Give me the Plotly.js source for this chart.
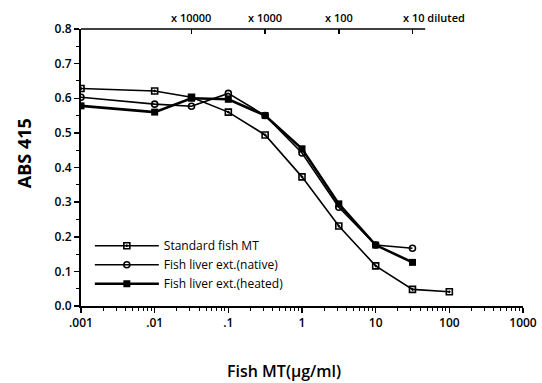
<!DOCTYPE html>
<html>
<head>
<meta charset="utf-8">
<script src="https://cdn.plot.ly/plotly-3.0.1.min.js"></script>
<style>html,body{margin:0;padding:0;background:#fff;}#chart{width:542px;height:383px;}</style>
</head>
<body>
<div id="chart"></div>
<script>
// Concentration (µg/ml)
const concStandard = [0.001, 0.01, 0.0316, 0.1, 0.316, 1, 3.16, 10, 31.6, 100];
const concExtract  = [0.001, 0.01, 0.0316, 0.1, 0.316, 1, 3.16, 10, 31.6];
// ABS 415 values
const absStandard = [0.628, 0.621, 0.603, 0.560, 0.494, 0.373, 0.231, 0.116, 0.048, 0.041];
const absNative   = [0.603, 0.583, 0.577, 0.614, 0.550, 0.442, 0.285, 0.176, 0.167];
const absHeated   = [0.578, 0.560, 0.600, 0.597, 0.550, 0.454, 0.295, 0.176, 0.126];
const seriesNames = ["Standard fish MT", "Fish liver ext.(native)", "Fish liver ext.(heated)"];
// Axis ticks
const xTickVals = [0.001, 0.01, 0.1, 1, 10, 100, 1000];
const xTickText = [".001", ".01", ".1", "1", "10", "100", "1000"];
const yTickVals = [0, 0.1, 0.2, 0.3, 0.4, 0.5, 0.6, 0.7, 0.8];
// Dilution (top) axis
const dilutionX = [0.0316, 0.316, 3.16, 31.6];
const dilutionLabels = ["x 10000", "x 1000", "x 100", "x 10 diluted"];

const FONT = "Open Sans, Lato, DejaVu Sans, sans-serif";

const traces = [
  {x: concStandard, y: absStandard, name: seriesNames[0], type: "scatter", mode: "lines+markers",
   line: {color: "#000", width: 1.6}, marker: {symbol: "square-open-dot", size: 6, color: "#000", line: {width: 1.6, color: "#000"}}},
  {x: concExtract, y: absNative, name: seriesNames[1], type: "scatter", mode: "lines+markers",
   line: {color: "#000", width: 1.6}, marker: {symbol: "circle-open", size: 6, color: "#000", line: {width: 1.6, color: "#000"}}},
  {x: concExtract, y: absHeated, name: seriesNames[2], type: "scatter", mode: "lines+markers",
   line: {color: "#000", width: 2.6}, marker: {symbol: "square", size: 7, color: "#000"}},
  {x: dilutionX, y: dilutionX.map(() => null), xaxis: "x2", yaxis: "y", showlegend: false, hoverinfo: "skip", type: "scatter", mode: "markers"}
];

const annotations = dilutionLabels.map((t, i) => {
  const last = i === dilutionLabels.length - 1;
  return {text: t, x: Math.log10(dilutionX[i]), xref: "x", y: 1, yref: "paper",
    yanchor: "bottom", yshift: 2, xanchor: last ? "left" : "center", xshift: last ? -11 : 0,
    showarrow: false, font: {family: FONT, size: 11, color: "#000", weight: 600}};
});
annotations.push({text: "ABS 415", textangle: -90, x: -0.13, xref: "paper", xanchor: "center",
  y: 0.55, yref: "paper", showarrow: false, font: {family: FONT, size: 18, color: "#000", weight: 700}});
annotations.push({text: "Fish MT(\u03bcg/ml)", x: 0.46, xref: "paper", y: -0.235, yref: "paper",
  yanchor: "middle", showarrow: false, font: {family: FONT, size: 16, color: "#000", weight: 600}});

const layout = {
  width: 542, height: 383,
  margin: {l: 81, r: 19, t: 29, b: 77},
  paper_bgcolor: "#fff", plot_bgcolor: "#fff",
  font: {family: FONT, color: "#000"},
  showlegend: true,
  legend: {x: 0.02, y: 0.27, xanchor: "left", yanchor: "top", bgcolor: "rgba(0,0,0,0)",
    font: {family: FONT, size: 12, color: "#000", weight: 500}, itemwidth: 64, tracegroupgap: 0},
  xaxis: {type: "log", range: [-3, 3], tickvals: xTickVals, ticktext: xTickText,
    showline: true, linecolor: "#000", linewidth: 2, ticks: "outside", ticklen: 5, tickwidth: 1.5, tickcolor: "#000",
    showgrid: false, zeroline: false, mirror: false,
    tickfont: {family: FONT, size: 12, color: "#000", weight: 600},
    minor: {ticks: "outside", ticklen: 3, tickwidth: 1, tickcolor: "#000", dtick: "D1", showgrid: false}},
  xaxis2: {type: "log", range: [-3, 3], overlaying: "x", side: "top", anchor: "y",
    tickvals: dilutionX, showticklabels: false, ticks: "inside", ticklen: 5, tickwidth: 1.5, tickcolor: "#000",
    showline: false, showgrid: false, zeroline: false},
  yaxis: {range: [0, 0.8], tickvals: yTickVals, tickformat: ".1f",
    showline: true, linecolor: "#000", linewidth: 2, ticks: "outside", ticklen: 5, tickwidth: 1.5, tickcolor: "#000",
    showgrid: false, zeroline: false,
    tickfont: {family: FONT, size: 12, color: "#000", weight: 600},
    minor: {ticks: "outside", ticklen: 3, tickwidth: 1, tickcolor: "#000", dtick: 0.05, showgrid: false}},
  shapes: [{type: "line", xref: "x", yref: "paper", x0: 0.001, x1: 47, y0: 1, y1: 1,
    line: {color: "#000", width: 1.5}}],
  annotations: annotations
};

Plotly.newPlot("chart", traces, layout, {staticPlot: true, displayModeBar: false});
</script>
</body>
</html>
